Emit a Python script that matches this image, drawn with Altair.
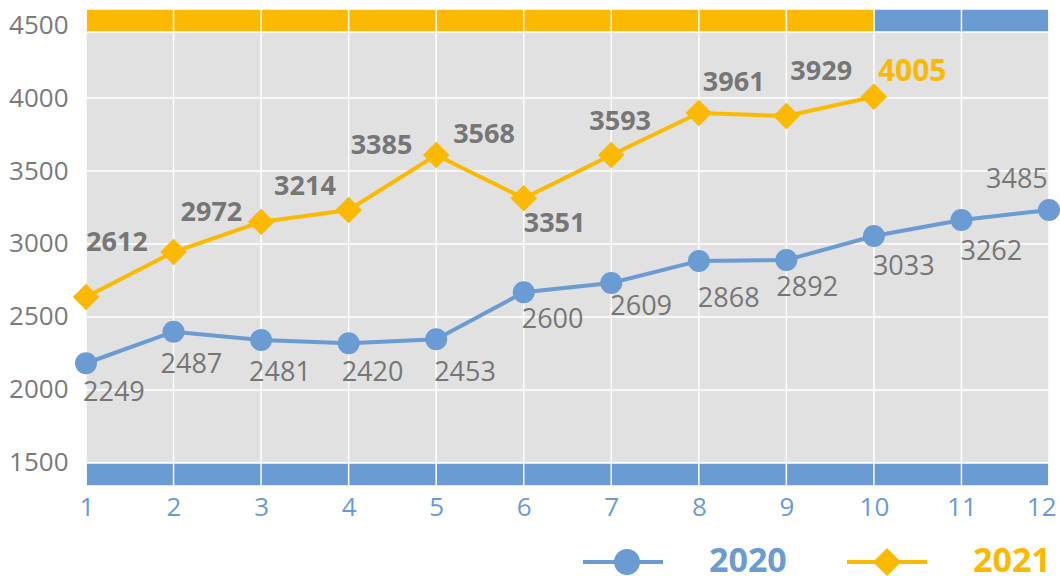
import altair as alt
import pandas as pd

# ---------------- data ----------------
months = list(range(1, 13))
series = ["2020", "2021"]
# plotted positions
values_2020 = [2183, 2399, 2342, 2320, 2347, 2669, 2733, 2884, 2890, 3055, 3164, 3233]
values_2021 = [2637, 2945, 3151, 3233, 3610, 3313, 3610, 3897, 3877, 4009]
# printed data labels
labels_2020 = [2249, 2487, 2481, 2420, 2453, 2600, 2609, 2868, 2892, 3033, 3262, 3485]
labels_2021 = [2612, 2972, 3214, 3385, 3568, 3351, 3593, 3961, 3929, 4005]
y_ticks = [1500, 2000, 2500, 3000, 3500, 4000, 4500]

# coloured bands (which year they belong to, month span, top/bottom row)
band_series = ["2021", "2020", "2020"]
band_start = [1, 10, 1]
band_end = [10, 12, 12]
band_row = ["top", "top", "bottom"]

# ---------------- style ----------------
BLUE = "#6A9BD3"
ORANGE = "#FBB901"
GRAY_BG = "#E1E1E1"
LABEL_GRAY = "#767676"
FONT = "Open Sans"
Y_MIN, Y_MAX = 1342, 4610
TOP_BAND_LOW, BOTTOM_BAND_HIGH = 4452, 1500

# label offsets (pixels) relative to their point
dx_2020 = [-3, -13, -12, -7, -2, -2, -1, -1, -10, -1, -1, -63]
dy_2020 = [30, 33, 33, 30, 34, 28, 24, 38, 28, 31, 32, -30]
dx_2021 = [0, 7, 13, 2, 17, 0, -22, 4, 4, 4]
dy_2021 = [-54, -39, -35, -64, -20, 26, -33, -30, -44, -25]

PATH_2020 = ("M-1,-0.05L-0.22,-0.05L-0.22,0.05L-1,0.05Z "
             "M0.42,-0.05L1,-0.05L1,0.05L0.42,0.05Z "
             "M0.425,0A0.325,0.325 0 1,1 -0.225,0A0.325,0.325 0 1,1 0.425,0Z")
PATH_2021 = ("M-1,-0.05L-0.3,-0.05L-0.3,0.05L-1,0.05Z "
             "M0.3,-0.05L1,-0.05L1,0.05L0.3,0.05Z "
             "M0,-0.35L0.35,0L0,0.35L-0.35,0Z")

# ---------------- tables ----------------
df20 = pd.DataFrame({"month": months, "value": values_2020, "label": labels_2020})
df21 = pd.DataFrame({"month": months[:len(values_2021)], "value": values_2021, "label": labels_2021})
bands = pd.DataFrame({"series": band_series, "start": band_start, "end": band_end, "row": band_row})
bands["low"] = [TOP_BAND_LOW if r == "top" else Y_MIN for r in band_row]
bands["high"] = [Y_MAX if r == "top" else BOTTOM_BAND_HIGH for r in band_row]
vgrid_df = pd.DataFrame({"month": months})
hgrid_df = pd.DataFrame({"value": y_ticks})
bg_df = pd.DataFrame({"start": [months[0]], "end": [months[-1]], "low": [Y_MIN], "high": [Y_MAX]})

x_scale = alt.Scale(domain=[months[0], months[-1]], nice=False, zero=False)
y_scale = alt.Scale(domain=[Y_MIN, Y_MAX], nice=False, zero=False)

X = alt.X("month:Q", scale=x_scale,
          axis=alt.Axis(values=months, format="d", title=None, grid=False, ticks=False,
                        domain=False, labelColor=BLUE, labelFontSize=26, labelFont=FONT,
                        labelPadding=8, labelFlush=True, labelFlushOffset=7))
Y = alt.Y("value:Q", scale=y_scale,
          axis=alt.Axis(values=y_ticks, format="d", title=None, grid=False,
                        ticks=False, domain=False, labelColor="#7A7A7A",
                        labelFontSize=26, labelFont=FONT, labelPadding=18, labelFlush=False))

bg_layer = alt.Chart(bg_df).mark_rect(color=GRAY_BG).encode(
    x=alt.X("start:Q", scale=x_scale), x2="end:Q",
    y=alt.Y("low:Q", scale=y_scale), y2="high:Q",
)

hgrid = alt.Chart(hgrid_df).mark_rule(color="white", strokeWidth=1.5).encode(
    y=alt.Y("value:Q", scale=y_scale)
)

band_layer = alt.Chart(bands).mark_rect(stroke="white", strokeWidth=1.5).encode(
    x=alt.X("start:Q", scale=x_scale),
    x2="end:Q",
    y=alt.Y("low:Q", scale=y_scale),
    y2="high:Q",
    fill=alt.Fill("series:N", scale=alt.Scale(domain=series, range=[BLUE, ORANGE]), legend=None),
)

vgrid = alt.Chart(vgrid_df).mark_rule(color="white", strokeWidth=1.5).encode(
    x=alt.X("month:Q", scale=x_scale)
)

line20 = alt.Chart(df20).mark_line(color=BLUE, strokeWidth=4).encode(x=X, y=Y)
line21 = alt.Chart(df21).mark_line(color=ORANGE, strokeWidth=4).encode(x=X, y=Y)
pts20 = alt.Chart(df20).mark_point(shape="circle", filled=True, color=BLUE, opacity=1, size=484).encode(x=X, y=Y)
pts21 = alt.Chart(df21).mark_point(shape="diamond", filled=True, color=ORANGE, opacity=1, size=700).encode(x=X, y=Y)

text_layers = []
for i in range(len(labels_2020)):
    text_layers.append(
        alt.Chart(df20.iloc[[i]]).mark_text(
            align="left", baseline="middle", dx=dx_2020[i], dy=dy_2020[i],
            font=FONT, fontSize=27, color=LABEL_GRAY
        ).encode(x=X, y=Y, text="label:N")
    )
for i in range(len(labels_2021)):
    last = i == len(labels_2021) - 1
    text_layers.append(
        alt.Chart(df21.iloc[[i]]).mark_text(
            align="left", baseline="middle", dx=dx_2021[i], dy=dy_2021[i],
            font=FONT, fontSize=30 if last else 27, fontWeight="bold",
            color=ORANGE if last else LABEL_GRAY
        ).encode(x=X, y=Y, text="label:N")
    )

leg = alt.Legend(
    orient="none", legendX=497, legendY=513, direction="horizontal", title=None,
    symbolSize=6400, symbolStrokeWidth=0, symbolOpacity=1,
    symbolType=alt.ExprRef(expr="datum.label === '2020' ? '%s' : '%s'" % (PATH_2020, PATH_2021)),
    labelFontSize=34, labelFont=FONT, labelFontWeight="bold",
    labelOffset=46, columnPadding=60, padding=0,
    labelColor=alt.ExprRef(expr="datum.label === '2020' ? '%s' : '%s'" % (BLUE, ORANGE)),
)
legend_df = pd.DataFrame({"series": series})
legend_layer = alt.Chart(legend_df).transform_filter("false").mark_point(
    filled=True, opacity=1
).encode(
    color=alt.Color("series:N", scale=alt.Scale(domain=series, range=[BLUE, ORANGE]), legend=leg),
)

chart = alt.layer(
    bg_layer, hgrid, band_layer, vgrid, line20, line21, pts20, pts21, *text_layers, legend_layer
).resolve_scale(fill="independent", color="independent").properties(
    width=963, height=477,
    background="white",
    autosize=alt.AutoSizeParams(type="none"),
    padding={"left": 86, "top": 9, "right": 11, "bottom": 90},
).configure_view(strokeWidth=0)

chart.save("out.html", embed_options={"renderer": "svg", "actions": False})
